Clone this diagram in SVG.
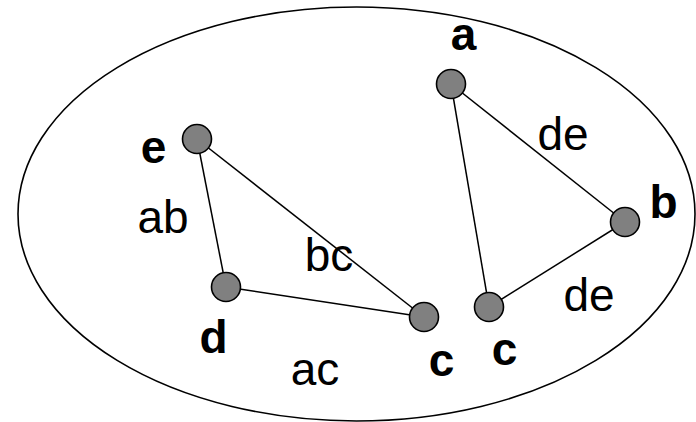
<svg xmlns="http://www.w3.org/2000/svg" width="696" height="422" viewBox="0 0 696 422">
<style>
.edge{stroke:#000;stroke-width:1.5;fill:none}
.node{fill:#808080;stroke:#000;stroke-width:1.6}
.lbl{font-family:"Liberation Sans",Arial,sans-serif;font-size:46px;font-weight:bold;text-anchor:middle;fill:#000}
.elbl{font-family:"Liberation Sans",Arial,sans-serif;font-size:46px;text-anchor:middle;fill:#000}
</style>
<rect width="696" height="422" fill="#fff"/>
<ellipse cx="356.5" cy="214" rx="338.5" ry="207" fill="none" stroke="#000" stroke-width="1.6"/>
<g id="connectors">
<line class="edge" x1="197" y1="139" x2="226" y2="287"/>
<line class="edge" x1="197" y1="139" x2="424" y2="317"/>
<line class="edge" x1="226" y1="287" x2="424" y2="317"/>
<line class="edge" x1="451" y1="84" x2="489" y2="307"/>
<line class="edge" x1="451" y1="84" x2="625" y2="222"/>
<line class="edge" x1="625" y1="222" x2="489" y2="307"/>
<text class="elbl" x="163" y="233">ab</text>
<text class="elbl" x="329" y="271">bc</text>
<text class="elbl" x="315" y="385">ac</text>
<text class="elbl" x="563" y="150">de</text>
<text class="elbl" x="589" y="311">de</text>
</g>
<g id="node-e"><circle class="node" cx="197" cy="139" r="14.5"/><text class="lbl" x="153.5" y="163">e</text></g>
<g id="node-d"><circle class="node" cx="226" cy="287" r="14.5"/><text class="lbl" x="213.5" y="353">d</text></g>
<g id="node-c1"><circle class="node" cx="424" cy="317" r="14.5"/><text class="lbl" x="441.5" y="376">c</text></g>
<g id="node-a"><circle class="node" cx="451" cy="84" r="14.5"/><text class="lbl" x="463.5" y="50">a</text></g>
<g id="node-b"><circle class="node" cx="625" cy="222" r="14.5"/><text class="lbl" x="663.5" y="218">b</text></g>
<g id="node-c2"><circle class="node" cx="489" cy="307" r="14.5"/><text class="lbl" x="504.5" y="365">c</text></g>
</svg>
